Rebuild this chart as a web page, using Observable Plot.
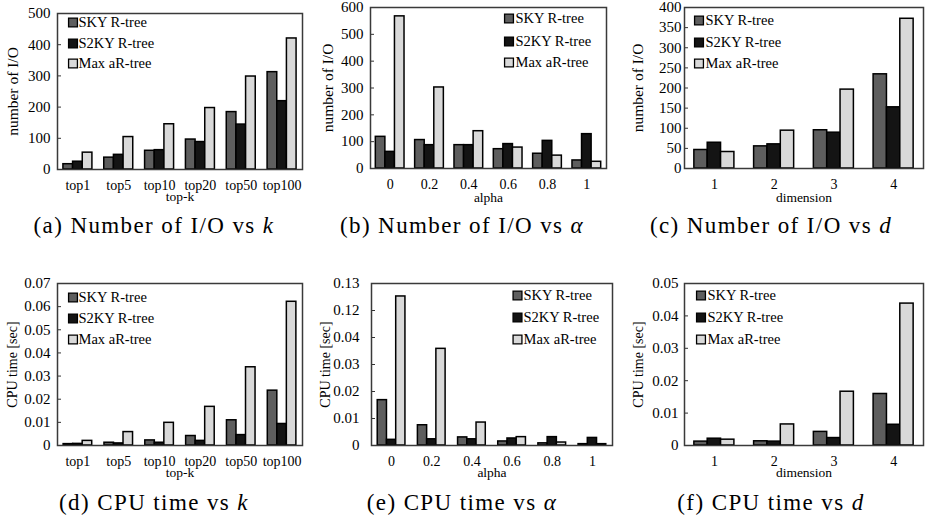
<!DOCTYPE html>
<html><head><meta charset="utf-8">
<script src="https://cdn.jsdelivr.net/npm/d3@7"></script>
<script src="https://cdn.jsdelivr.net/npm/@observablehq/plot@0.6"></script>
<style>
body{margin:0;background:#fff;width:925px;height:523px;position:relative;overflow:hidden;font-family:'Liberation Serif','Times New Roman',serif;}
.panel{position:absolute;}
.cap{position:absolute;width:308px;height:28px;line-height:28px;text-align:center;font-family:'Liberation Serif','Times New Roman',serif;font-size:23px;letter-spacing:1.4px;color:#000;white-space:nowrap;}
svg g[aria-label^="y-axis"] text{font-size:15px;}
svg g[aria-label^="x-axis"] text{font-size:14px;}
</style></head><body>
<script>
// ---- data ----
const seriesNames = ["SKY R-tree", "S2KY R-tree", "Max aR-tree"];
const seriesColors = ["#5e5e5e", "#141414", "#d9d9d9"];

const topkCats = ["top1", "top5", "top10", "top20", "top50", "top100"];
const alphaCats = ["0", "0.2", "0.4", "0.6", "0.8", "1"];
const dimCats = ["1", "2", "3", "4"];

const ioTopkSKY  = [17, 38, 60, 96, 184, 312];
const ioTopkS2KY = [25, 47, 62, 88, 144, 219];
const ioTopkMax  = [54, 104, 145, 197, 298, 420];

const ioAlphaSKY  = [118, 106, 87, 72, 55, 30];
const ioAlphaS2KY = [62, 87, 87, 91, 103, 128];
const ioAlphaMax  = [567, 302, 139, 78, 48, 25];

const ioDimSKY  = [46, 55, 95, 234];
const ioDimS2KY = [64, 60, 89, 152];
const ioDimMax  = [41, 94, 196, 372];

const cpuTopkSKY  = [0.0006, 0.0012, 0.0022, 0.0041, 0.0109, 0.0237];
const cpuTopkS2KY = [0.0007, 0.0009, 0.0012, 0.0020, 0.0045, 0.0093];
const cpuTopkMax  = [0.0020, 0.0058, 0.0098, 0.0167, 0.0338, 0.0621];

const cpuAlphaSKY  = [0.0168, 0.0075, 0.0030, 0.0015, 0.0008, 0.0005];
const cpuAlphaS2KY = [0.0021, 0.0023, 0.0023, 0.0026, 0.0031, 0.0028];
const cpuAlphaMax  = [0.1252, 0.0358, 0.0085, 0.0031, 0.0011, 0.0005];

const cpuDimSKY  = [0.0012, 0.0013, 0.0042, 0.0159];
const cpuDimS2KY = [0.0021, 0.0012, 0.0023, 0.0064];
const cpuDimMax  = [0.0018, 0.0065, 0.0166, 0.0438];

const ticksIoTopk  = [0, 100, 200, 300, 400, 500];
const ticksIoAlpha = [0, 100, 200, 300, 400, 500, 600];
const ticksIoDim   = [0, 50, 100, 150, 200, 250, 300, 350, 400];
const ticksCpuTopk = [0, 0.01, 0.02, 0.03, 0.04, 0.05, 0.06, 0.07];
const ticksCpuAlpha = [0, 0.01, 0.02, 0.03, 0.04, 0.12, 0.13];
const ticksCpuDim  = [0, 0.01, 0.02, 0.03, 0.04, 0.05];
const cpuAlphaBreak = [0, 0.04, 0.12, 0.13];   // broken axis domain

const xTitles = ["top-k", "alpha", "dimension", "top-k", "alpha", "dimension"];
const yTitles = ["number of I/O", "number of I/O", "number of I/O", "CPU time [sec]", "CPU time [sec]", "CPU time [sec]"];
const captions = [
  "(a) Number of I/O vs <i>k</i>",
  "(b) Number of I/O vs <i>α</i>",
  "(c) Number of I/O vs <i>d</i>",
  "(d) CPU time vs <i>k</i>",
  "(e) CPU time vs <i>α</i>",
  "(f) CPU time vs <i>d</i>"
];

// ---- layout ----
const W = 308;
const panels = [
  {cats: topkCats, vals: [ioTopkSKY, ioTopkS2KY, ioTopkMax], ticks: ticksIoTopk,
   left: 0, top: 0, H: 205, ml: 57, mr: 6, mt: 13, mb: 36, tp: 7, g: 0.71, xdy: 27,
   lr: false, sw: 15.5, tx: 21, rows: [9, 30, 50], ytx: 13, ytf: 15.5},
  {cats: alphaCats, vals: [ioAlphaSKY, ioAlphaS2KY, ioAlphaMax], ticks: ticksIoAlpha,
   left: 308, top: 0, H: 205, ml: 62, mr: 10, mt: 7, mb: 37, tp: 7, g: 0.73, xdy: 29,
   lr: true, sw: -97.5, tx: -91, rows: [11, 34, 55], ytx: 20, ytf: 15.5},
  {cats: dimCats, vals: [ioDimSKY, ioDimS2KY, ioDimMax], ticks: ticksIoDim,
   left: 617, top: 0, H: 205, ml: 67, mr: 2, mt: 7, mb: 37, tp: 3, g: 0.67, xdy: 29,
   lr: false, sw: 14.5, tx: 21, rows: [13, 35, 56], ytx: 21, ytf: 15.5},
  {cats: topkCats, vals: [cpuTopkSKY, cpuTopkS2KY, cpuTopkMax], ticks: ticksCpuTopk,
   left: 0, top: 270, H: 215, ml: 57, mr: 6, mt: 13, mb: 40, tp: 7, g: 0.70, xdy: 27,
   lr: false, sw: 15.5, tx: 21, rows: [14, 35, 56], ytx: 12, ytf: 14},
  {cats: alphaCats, vals: [cpuAlphaSKY, cpuAlphaS2KY, cpuAlphaMax], ticks: ticksCpuAlpha, broken: true,
   left: 308, top: 270, H: 215, ml: 63, mr: 4, mt: 13, mb: 40, tp: 12, g: 0.69, xdy: 27,
   lr: true, sw: -95, tx: -89, rows: [12, 34, 56], ytx: 17, ytf: 14},
  {cats: dimCats, vals: [cpuDimSKY, cpuDimS2KY, cpuDimMax], ticks: ticksCpuDim,
   left: 617, top: 270, H: 215, ml: 67, mr: 2, mt: 13, mb: 40, tp: 6, g: 0.67, xdy: 27,
   lr: false, sw: 16.5, tx: 23, rows: [12, 34, 56], ytx: 21, ytf: 14}
];

const FONT = "'Liberation Serif','Times New Roman',serif";

panels.forEach((p, pi) => {
  const n = p.cats.length;
  const bw = p.g / 3;
  const H = p.H;
  const rows = [];
  p.cats.forEach((c, i) => {
    seriesNames.forEach((s, k) => {
      const x1 = i - p.g / 2 + k * bw;
      rows.push({x1, x2: x1 + bw, v: p.vals[k][i], s});
    });
  });
  const top = p.ticks[p.ticks.length - 1];
  const y0 = H - p.mb, y1 = p.mt, h = y0 - y1;
  const yScale = p.broken
    ? {type: "linear", domain: cpuAlphaBreak, range: [y0, y0 - h * 4 / 6, y0 - h * 5 / 6, y1]}
    : {type: "linear", domain: [0, top]};
  const anchor = p.lr ? "top-right" : "top-left";
  const legendMarks = [];
  seriesNames.forEach((s, k) => {
    legendMarks.push(Plot.dot([s], {frameAnchor: anchor, dx: p.sw, dy: p.rows[k], symbol: "square", r: 5,
      fill: seriesColors[k], stroke: "#000", strokeWidth: 1.3}));
    legendMarks.push(Plot.text([s], {frameAnchor: anchor, dx: p.tx, dy: p.rows[k], text: d => d,
      textAnchor: "start", lineAnchor: "middle", fontSize: 14.5, fill: "#000"}));
  });
  const chart = Plot.plot({
    width: W, height: H,
    marginLeft: p.ml, marginRight: p.mr, marginTop: p.mt, marginBottom: p.mb,
    style: {fontFamily: FONT, fontSize: "14px", color: "#000", background: "transparent"},
    x: {type: "linear", domain: [-0.5, n - 0.5], label: null},
    y: {...yScale, label: null},
    color: {domain: seriesNames, range: seriesColors},
    marks: [
      Plot.rectY(rows, {x1: "x1", x2: "x2", y: "v", fill: "s", stroke: "#000", strokeWidth: 1.5}),
      Plot.axisX(d3.range(n), {tickSize: 0, tickPadding: 11, tickFormat: i => p.cats[i], label: null, fill: "#000"}),
      Plot.axisY(p.ticks, {tickSize: -4, tickPadding: p.tp + 4, tickFormat: d => String(d), label: null,
        stroke: "#333", fill: "#000"}),
      Plot.frame({stroke: "#3a3a3a", strokeWidth: 1.5}),
      ...legendMarks,
      Plot.text([xTitles[pi]], {frameAnchor: "bottom", dy: p.xdy, text: d => d, textAnchor: "middle",
        lineAnchor: "middle", fontSize: 13.5, fill: "#000"}),
      Plot.text([yTitles[pi]], {frameAnchor: "left", dx: -(p.ml - p.ytx), rotate: -90, text: d => d,
        textAnchor: "middle", lineAnchor: "middle", fontSize: p.ytf, fill: "#000"})
    ]
  });
  const div = document.createElement("div");
  div.className = "panel";
  div.style.left = p.left + "px";
  div.style.top = p.top + "px";
  div.appendChild(chart);
  document.body.appendChild(div);

  const cap = document.createElement("div");
  cap.className = "cap";
  cap.style.left = (pi % 3 === 0 ? 0 : pi % 3 === 1 ? 308 : 617) + "px";
  cap.style.top = (pi < 3 ? 212 : 489) + "px";
  cap.innerHTML = captions[pi];
  document.body.appendChild(cap);
});
</script>
</body></html>
